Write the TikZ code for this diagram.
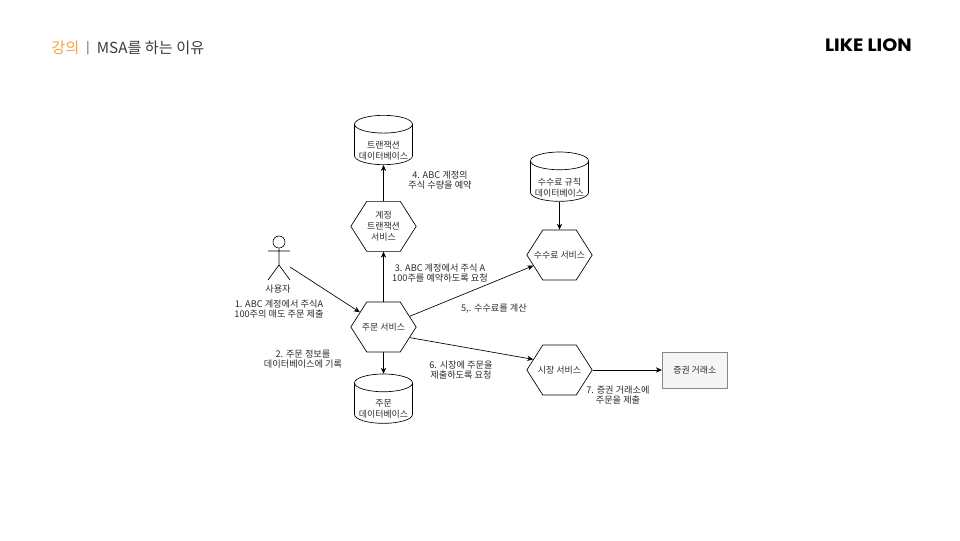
\documentclass[tikz,border=0pt]{standalone}
\usepackage{fontspec}
\setmainfont{Noto Sans CJK KR}
\newfontfamily\logofont[FakeStretch=1.07]{Poppins}
\usetikzlibrary{arrows.meta,positioning,shapes.geometric,shapes.symbols}
\definecolor{lionorange}{HTML}{F4A340}
\definecolor{titleink}{HTML}{3C3C3C}
\definecolor{labelink}{HTML}{2B2B2B}
\definecolor{boxbg}{HTML}{F5F5F5}
\definecolor{boxline}{HTML}{888888}
\begin{document}
\begin{tikzpicture}[x=0.75pt,y=-0.75pt,
  node distance=37.5pt and 52pt,
  hexa/.style={shape=signal,signal to=west and east,signal pointer angle=115,draw,line width=0.5pt,
    minimum width=49pt,minimum height=37.5pt,inner sep=0pt,
    label={[align=center,inner sep=0pt,font=\fontsize{6.7}{8.2}\selectfont,text=labelink]center:#1}},
  dbase/.style={shape=cylinder,shape border rotate=90,shape aspect=0.36,draw,line width=0.5pt,
    minimum width=43.5pt,minimum height=37pt,inner sep=0pt,font=\fontsize{6.7}{8.2}\selectfont,
    label={[shape=rectangle,align=center,inner sep=0pt,yshift=-4.5pt,font=\fontsize{6.7}{8.2}\selectfont,text=labelink]center:#1}},
  note/.style={align=center,inner sep=0pt,font=\fontsize{6.9}{7.6}\selectfont,text=labelink},
  arr/.style={-{Stealth[length=4.5pt,width=4pt]},line width=0.5pt}]
\useasboundingbox (0,0) rectangle (960,540);
% title and logo
\node[anchor=west,inner sep=0pt,font=\fontsize{11.4}{14}\selectfont,text=lionorange] (lecture) at (51,48) {강의};
\node[right=5pt of lecture,inner sep=0pt,font=\fontsize{9}{14}\selectfont,text=titleink] (bar) {|};
\node[right=5pt of bar,inner sep=0pt,font=\fontsize{11.4}{14}\selectfont,text=titleink] (title) {MSA를 하는 이유};
\node[anchor=east,inner sep=0pt,font=\logofont\bfseries\fontsize{13.4}{14}\selectfont] (logo) at (912,45) {LIKE LION};
% services
\node[hexa={주문 서비스}] (order) at (383.5,327) {};
\node[hexa={계정\\트랜잭션\\서비스},above=of order] (acct) {};
\node[hexa={수수료 서비스}] (fee) at (559.5,255) {};
\node[hexa={시장 서비스}] (market) at (559.5,370) {};
\node[draw=boxline,fill=boxbg,minimum width=49pt,minimum height=27pt,inner sep=0pt,
  font=\fontsize{6.7}{8}\selectfont,text=labelink,right=of market] (exch) {증권 거래소};
% databases
\node[dbase={트랜잭션\\데이터베이스},above=27pt of acct] (txdb) {\phantom{데이터베이스}};
\node[dbase={주문\\데이터베이스},below=16pt of order] (orderdb) {\phantom{데이터베이스}};
\node[dbase={수수료 규칙\\데이터베이스},above=21pt of fee] (feedb) {\phantom{데이터베이스}};
% user
\node[circle,draw,line width=0.5pt,minimum size=9pt,inner sep=0pt] (head) at (279,242) {};
\coordinate (arml) at (268,251);
\coordinate (armr) at (290,251);
\coordinate (hip) at (279,265);
\coordinate (footl) at (268,280);
\coordinate (footr) at (290,280);
\coordinate (userout) at (290,267);
\draw[line width=0.5pt] (head) -- (hip) (arml) -- (armr) (footl) -- (hip) -- (footr);
\node[note] (user) at (278,289) {사용자};
% connectors
\draw[arr] (userout) -- (order.148);
\draw[arr] (order) -- (acct);
\draw[arr] (acct) -- (txdb);
\draw[arr] (order) -- (orderdb);
\draw[arr] (order) -- (fee);
\draw[arr] (feedb) -- (fee);
\draw[arr] (order.-22) -- (market.158);
\draw[arr] (market) -- (exch);
% labels
\node[note] (n1) at (279,309) {1. ABC 계정에서 주식A\\100주의 매도 주문 제출};
\node[note] (n2) at (303,359) {2. 주문 정보를\\데이터베이스에 기록};
\node[note] (n3) at (440,273) {3. ABC 계정에서 주식 A\\100주를 예약하도록 요청};
\node[note] (n4) at (440,180) {4. ABC 계정의\\주식 수량을 예약};
\node[note] (n5) at (494,309) {5,. 수수료를 계산};
\node[note] (n6) at (461,370) {6. 시장에 주문을\\제출하도록 요청};
\node[note] (n7) at (618,395) {7. 증권 거래소에\\주문을 제출};
\end{tikzpicture}
\end{document}
